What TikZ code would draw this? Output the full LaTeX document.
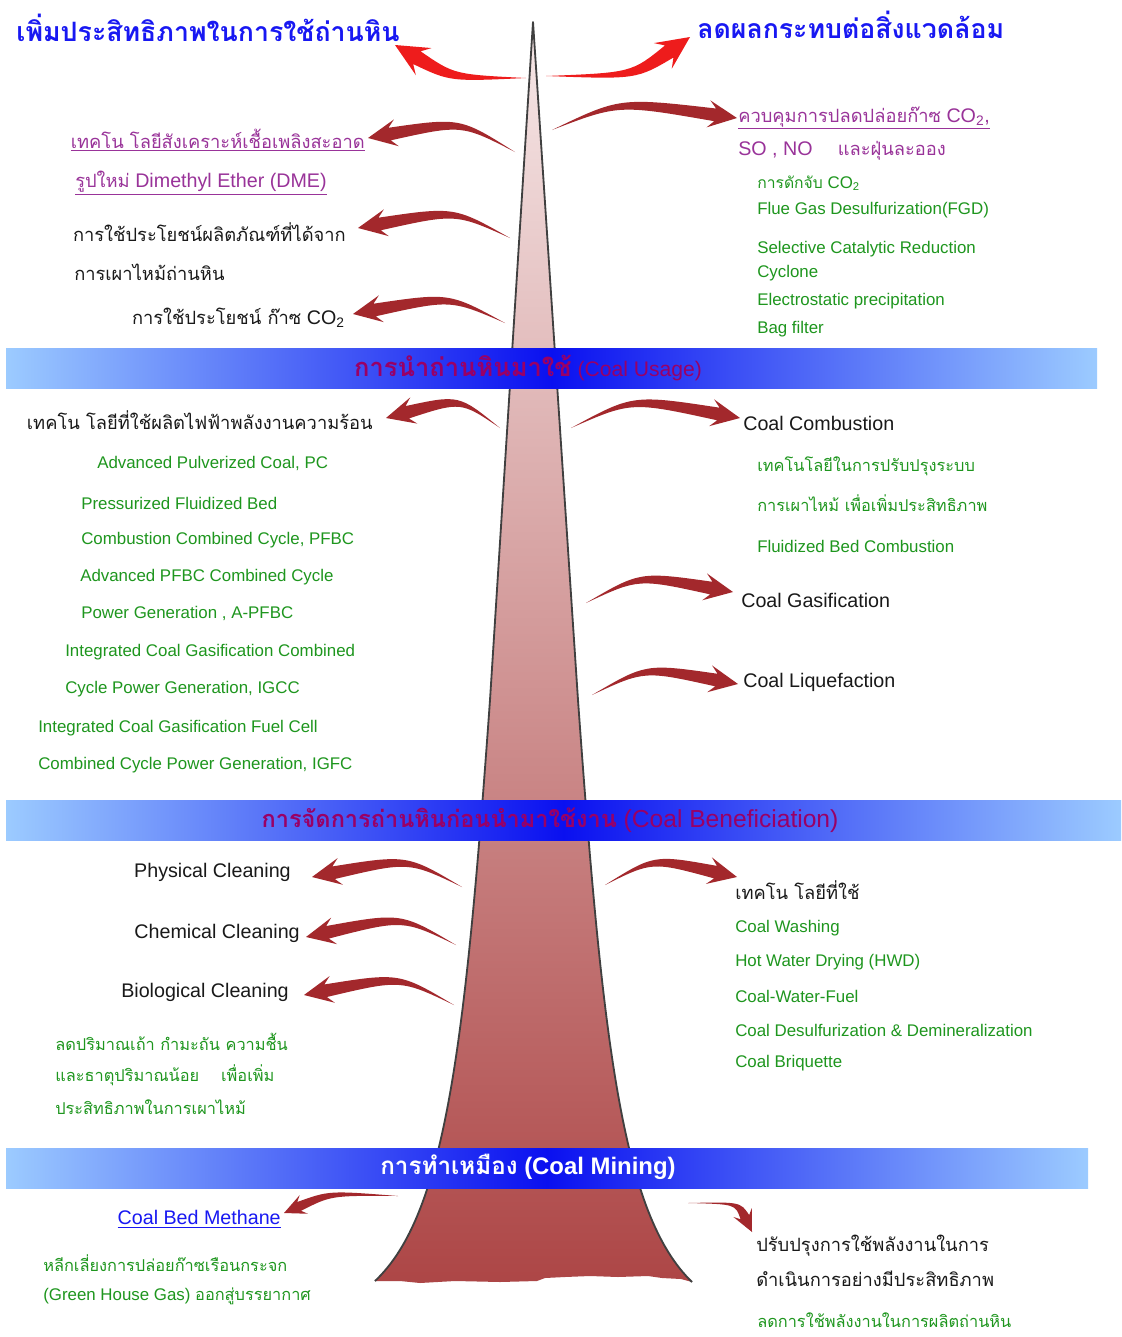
\documentclass[tikz,border=0pt]{standalone}
\usepackage{fontspec}
\setmainfont{Liberation Sans}
\newfontfamily\thaifont[Script=Thai,Scale=0.93]{Loma}
\usepackage{tikz}
\usepackage{xcolor}
\usetikzlibrary{calc}
\definecolor{TitleBlue}{HTML}{1818F2}
\definecolor{PlumText}{HTML}{993399}
\definecolor{LeafGreen}{HTML}{1E961E}
\definecolor{BrushRed}{HTML}{A3282C}
\definecolor{FlameRed}{HTML}{EE1C1C}
\definecolor{BandLight}{HTML}{9CCBFF}
\definecolor{BandDeep}{HTML}{0A10F0}
\definecolor{BandText}{HTML}{990066}
\definecolor{SpireTop}{HTML}{F6E8E8}
\definecolor{SpireBottom}{HTML}{AD4646}
\newcommand{\thai}[1]{{\thaifont #1}}
\tikzstyle{titleText}=[inner sep=0pt, text=TitleBlue, font=\thaifont\bfseries\fontsize{20.4}{24}\selectfont]
\tikzstyle{blackText}=[inner sep=0pt, text=black!90, font=\fontsize{14}{16}\selectfont]
\tikzstyle{plumText}=[inner sep=0pt, text=PlumText, font=\fontsize{14}{16}\selectfont]
\tikzstyle{greenText}=[inner sep=0pt, text=LeafGreen, font=\fontsize{12}{14}\selectfont]
\tikzstyle{greenThai}=[inner sep=0pt, text=LeafGreen, font=\thaifont\fontsize{12.5}{14}\selectfont]
\tikzstyle{bandBox}=[left color=BandLight, right color=BandLight, middle color=BandDeep]
\tikzstyle{bandText}=[inner sep=0pt, text=BandText, font=\fontsize{15}{17}\selectfont]
\tikzstyle{spireEdge}=[draw=black!75, line width=1.3pt, line join=round]
% brush arrow: colour, size, tail, bend, tip
\newcommand{\brusharrow}[5]{%
  \coordinate (bt) at #3;
  \coordinate (bc) at #4;
  \coordinate (bh) at #5;
  \coordinate (bn) at ($(bh)!#2*0.55cm!(bc)$);
  \coordinate (bb) at ($(bh)!#2*0.72cm!(bc)$);
  \fill[#1] (bt) .. controls ($(bc)!#2*0.09cm!90:(bn)$) .. ($(bn)!#2*0.16cm!90:(bh)$)
    -- ($(bb)!#2*0.34cm!90:(bh)$) -- (bh) -- ($(bb)!#2*0.34cm!-90:(bh)$)
    -- ($(bn)!#2*0.16cm!-90:(bh)$) .. controls ($(bc)!#2*0.09cm!-90:(bn)$) .. (bt) -- cycle;
}

\begin{document}
\begin{tikzpicture}[x=0.025cm,y=-0.025cm]
    \path[use as bounding box, fill=white] (0,0) rectangle (1121,1337);

    % Spire
    \coordinate (apex) at (533,22);
    \coordinate (leftKnee) at (490,700);
    \coordinate (rightKnee) at (578,700);
    \coordinate (leftFoot) at (375,1281);
    \coordinate (rightFoot) at (692,1282);
    \path[top color=SpireTop, bottom color=SpireBottom] (apex) -- (rightKnee)
        .. controls (603,1050) and (623,1215) .. (rightFoot)
        -- (681,1279) -- (662,1278) -- (648,1276) -- (618,1277) -- (590,1276) -- (565,1277)
        -- (545,1278) -- (537,1281) -- (500,1282) -- (455,1281) -- (420,1283) -- (400,1281)
        -- (leftFoot) .. controls (445,1215) and (465,1050) .. (leftKnee) -- cycle;
    \draw[spireEdge] (leftFoot) .. controls (445,1215) and (465,1050) .. (leftKnee) -- (apex)
        -- (rightKnee) .. controls (603,1050) and (623,1215) .. (rightFoot);

    % Titles
    \node[titleText, anchor=east] (titleLeft) at (400,28) {เพิ่มประสิทธิภาพในการใช้ถ่านหิน};
    \node[titleText, anchor=west] (titleRight) at (697,25) {ลดผลกระทบต่อสิ่งแวดล้อม};
    \coordinate (tailTL) at (526,78);
    \coordinate (tailTR) at (546,76);
    \brusharrow{FlameRed}{1.15}{(tailTL)}{(452,78)}{($(titleLeft.east)+(-5,17)$)}
    \brusharrow{FlameRed}{1.15}{(tailTR)}{(634,76)}{($(titleRight.west)+(-7,12)$)}

    % Upper left
    \node[plumText, anchor=east] (synFuel) at (365,140) {\underline{\thai{เทคโน โลยีสังเคราะห์เชื้อเพลิงสะอาด}}};
    \node[plumText, anchor=west] (dmeLine) at (75,183) {\underline{\thai{รูปใหม่} Dimethyl Ether (DME)}};
    \node[blackText, anchor=east] (byProduct) at (346,232) {\thai{การใช้ประโยชน์ผลิตภัณฑ์ที่ได้จาก}};
    \node[blackText, anchor=west] (burnLine) at (74,272) {\thai{การเผาไหม้ถ่านหิน}};
    \node[blackText, anchor=east] (coUse) at (345,318) {\thai{การใช้ประโยชน์ ก๊าซ} CO\textsubscript{2}};
    \coordinate (tailL1) at (515,152);
    \coordinate (tailL2) at (510,238);
    \coordinate (tailL3) at (505,323);
    \brusharrow{BrushRed}{1}{(tailL1)}{(461,121)}{($(synFuel.east)+(3,-2)$)}
    \brusharrow{BrushRed}{1}{(tailL2)}{(455,210)}{($(byProduct.east)+(12,-4)$)}
    \brusharrow{BrushRed}{1}{(tailL3)}{(450,296)}{($(coUse.east)+(8,-4)$)}

    % Upper right
    \node[plumText, anchor=west] (emitCtrl) at (738,118) {\underline{\thai{ควบคุมการปลดปล่อยก๊าซ} CO\textsubscript{2},}};
    \node[plumText, anchor=west] (soxLine) at (738,151) {SO , NO \quad\thai{และฝุ่นละออง}};
    \node[greenText, anchor=west] (coCapture) at (757,183) {\thai{การดักจับ} CO\textsubscript{2}};
    \node[greenText, anchor=west] (fgd) at (757,210) {Flue Gas Desulfurization(FGD)};
    \node[greenText, anchor=west] (scr) at (757,249) {Selective Catalytic Reduction};
    \node[greenText, anchor=west] (cyclone) at (757,273) {Cyclone};
    \node[greenText, anchor=west] (esp) at (757,301) {Electrostatic precipitation};
    \node[greenText, anchor=west] (bagFilter) at (757,329) {Bag filter};
    \coordinate (tailR1) at (552,130);
    \brusharrow{BrushRed}{1}{(tailR1)}{(619,101)}{($(emitCtrl.west)+(-1,0)$)}

    % Coal usage band
    \path[bandBox] (6,348) rectangle (1097,388);
    \node[bandText] (usageBand) at (528,368) {\thai{\bfseries\fontsize{19.5}{20}\selectfont การนำถ่านหินมาใช้} (Coal Usage)};

    \node[blackText, anchor=east] (powerTech) at (373,420) {\thai{เทคโน โลยีที่ใช้ผลิตไฟฟ้าพลังงานความร้อน}};
    \node[greenText, anchor=west] (apc) at (97,463) {Advanced Pulverized Coal, PC};
    \node[greenText, anchor=west] (pfbA) at (81,503) {Pressurized Fluidized Bed};
    \node[greenText, anchor=west] (pfbB) at (81,540) {Combustion Combined Cycle, PFBC};
    \node[greenText, anchor=west] (apfbcA) at (80,577) {Advanced PFBC Combined Cycle};
    \node[greenText, anchor=west] (apfbcB) at (81,613) {Power Generation , A-PFBC};
    \node[greenText, anchor=west] (igccA) at (65,652) {Integrated Coal Gasification Combined};
    \node[greenText, anchor=west] (igccB) at (65,689) {Cycle Power Generation, IGCC};
    \node[greenText, anchor=west] (igfcA) at (38,728) {Integrated Coal Gasification Fuel Cell};
    \node[greenText, anchor=west] (igfcB) at (38,765) {Combined Cycle Power Generation, IGFC};
    \coordinate (tailL4) at (500,428);
    \brusharrow{BrushRed}{1}{(tailL4)}{(460,398)}{($(powerTech.east)+(13,-2)$)}

    \node[blackText, anchor=west] (combustion) at (743,423) {Coal Combustion};
    \node[greenThai, anchor=west] (combTechA) at (757,466) {เทคโนโลยีในการปรับปรุงระบบ};
    \node[greenThai, anchor=west] (combTechB) at (757,503) {การเผาไหม้ เพื่อเพิ่มประสิทธิภาพ};
    \node[greenText, anchor=west] (fbc) at (757,546) {Fluidized Bed Combustion};
    \node[blackText, anchor=west] (gasify) at (741,600) {Coal Gasification};
    \node[blackText, anchor=west] (liquefy) at (743,682) {Coal Liquefaction};
    \coordinate (tailR2) at (571,428);
    \coordinate (tailR3) at (586,603);
    \coordinate (tailR4) at (592,695);
    \brusharrow{BrushRed}{1}{(tailR2)}{(632,398)}{($(combustion.west)+(-3,-5)$)}
    \brusharrow{BrushRed}{1}{(tailR3)}{(639,575)}{($(gasify.west)+(-8,-8)$)}
    \brusharrow{BrushRed}{1}{(tailR4)}{(645,667)}{($(liquefy.west)+(-5,2)$)}

    % Coal beneficiation band
    \path[bandBox] (6,800) rectangle (1121,840);
    \node[bandText, font=\fontsize{17.5}{19}\selectfont] (benefBand) at (550,820) {\thai{\bfseries\fontsize{18}{19}\selectfont การจัดการถ่านหินก่อนนำมาใช้งาน} (Coal Beneficiation)};

    \node[blackText, anchor=east] (physClean) at (291,872) {Physical Cleaning};
    \node[blackText, anchor=east] (chemClean) at (300,933) {Chemical Cleaning};
    \node[blackText, anchor=east] (bioClean) at (289,992) {Biological Cleaning};
    \node[greenThai, anchor=west] (ashA) at (55,1042) {ลดปริมาณเถ้า กำมะถัน ความชื้น};
    \node[greenThai, anchor=west] (ashB) at (55,1075) {และธาตุปริมาณน้อย\quad\ เพื่อเพิ่ม};
    \node[greenThai, anchor=west] (ashC) at (55,1107) {ประสิทธิภาพในการเผาไหม้};
    \coordinate (tailL5) at (462,887);
    \coordinate (tailL6) at (456,945);
    \coordinate (tailL7) at (454,1005);
    \brusharrow{BrushRed}{1}{(tailL5)}{(408,858)}{($(physClean.east)+(21,5)$)}
    \brusharrow{BrushRed}{1}{(tailL6)}{(402,916)}{($(chemClean.east)+(6,4)$)}
    \brusharrow{BrushRed}{1}{(tailL7)}{(400,976)}{($(bioClean.east)+(15,3)$)}

    \node[blackText, anchor=west] (benefTech) at (735,890) {\thai{เทคโน โลยีที่ใช้}};
    \node[greenText, anchor=west] (washing) at (735,928) {Coal Washing};
    \node[greenText, anchor=west] (hwd) at (735,962) {Hot Water Drying (HWD)};
    \node[greenText, anchor=west] (cwf) at (735,996) {Coal-Water-Fuel};
    \node[greenText, anchor=west] (desulf) at (735,1030) {Coal Desulfurization \& Demineralization};
    \node[greenText, anchor=west] (briquette) at (735,1063) {Coal Briquette};
    \coordinate (tailR5) at (605,885);
    \brusharrow{BrushRed}{1}{(tailR5)}{(653,858)}{($(benefTech.west)+(2,-13)$)}

    % Coal mining band
    \path[bandBox] (6,1148) rectangle (1088,1188);
    \node[bandText, text=white, font=\bfseries\fontsize{17}{19}\selectfont] (miningBand) at (528,1167) {\thai{\fontsize{18.5}{19}\selectfont การทำเหมือง} (Coal Mining)};

    \node[plumText, text=TitleBlue, anchor=east] (cbm) at (281,1219) {\underline{Coal Bed Methane}};
    \node[greenThai, anchor=west] (ghgA) at (43,1263) {หลีกเลี่ยงการปล่อยก๊าซเรือนกระจก};
    \node[greenText, anchor=west] (ghgB) at (43,1296) {(Green House Gas) \thai{\fontsize{12.5}{14}\selectfont ออกสู่บรรยากาศ}};
    \node[blackText, anchor=west] (mineA) at (756,1246) {\thai{ปรับปรุงการใช้พลังงานในการ}};
    \node[blackText, anchor=west] (mineB) at (756,1279) {\thai{ดำเนินการอย่างมีประสิทธิภาพ}};
    \node[greenThai, anchor=west] (mineC) at (757,1320) {ลดการใช้พลังงานในการผลิตถ่านหิน};
    \coordinate (tailL8) at (398,1196);
    \coordinate (tailR6) at (688,1203);
    \brusharrow{BrushRed}{0.75}{(tailL8)}{(330,1193)}{($(cbm.east)+(3,-6)$)}
    \brusharrow{BrushRed}{0.75}{(tailR6)}{(738,1203)}{($(mineA.west)+(-4,-14)$)}

\end{tikzpicture}
\end{document}
